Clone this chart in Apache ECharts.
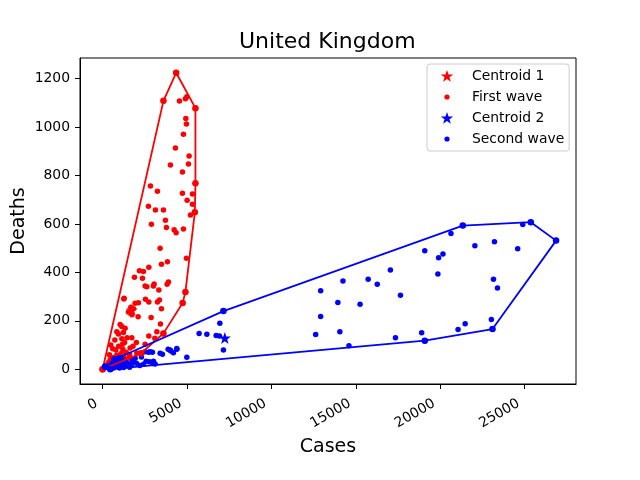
<!DOCTYPE html>
<html>
<head>
<meta charset="utf-8">
<script src="https://cdn.jsdelivr.net/npm/echarts@6/dist/echarts.min.js"></script>
<style>
html, body { margin: 0; padding: 0; background: #fff; }
#main { width: 640px; height: 480px; }
</style>
</head>
<body>
<div id="main"></div>
<script>
// cases / deaths per day
var firstWave = [
  [0,0],[50,3],[150,8],[250,15],[350,28],[450,40],[550,22],[650,48],[700,25],[750,35],
  [900,55],[1000,42],[1050,35],[1100,65],[1250,50],[1400,70],[1500,45],[1600,60],[600,85],[950,95],
  [1300,110],[480,100],[1800,95],[2000,110],[1450,130],
  [403,60],[841,59],[782,79],[1197,82],[1173,103],[1629,88],[2518,103],[2026,67],[2286,66],
  [1232,152],[936,145],[1730,130],[1137,126],[723,121],[2737,137],[3092,128],[3211,155],[3603,148],
  [1037,185],[1137,176],[3424,187],[1333,169],[841,155],
  [1671,256],[1825,250],[1528,236],[1730,225],[2103,217],[2873,214],[3484,250],[1925,272],
  [1256,290],[1274,293],[2121,274],[2536,289],[2737,278],[3247,278],[4740,273],[3365,286],
  [3051,352],[3898,360],[3821,351],[2618,341],[3330,327],[4905,319],[2518,344],[3009,344],
  [2180,407],[2417,404],[2737,421],[1884,380],[2358,376],
  [3406,500],[3484,433],[3839,444],[4965,458],
  [3720,615],[2891,599],[3780,585],[4236,576],[4354,564],[4787,579],
  [5006,698],[5320,681],[2713,673],[3128,657],[3603,657],[5462,648],[5201,637],
  [5498,768],[2832,756],[3247,735],[4728,727],[5320,723],
  [5124,880],[5083,847],[4017,843],[4728,814],
  [4929,1035],[4965,1012],[4787,970],[4313,913],
  [3603,1108],[4355,1224],[4550,1107],[4905,1117],[4988,1125],[5498,1078]
];

var secondWave = [
  [150,10],[300,8],[450,0],[500,15],[600,25],[650,5],[700,40],[800,10],[900,30],[900,15],[1000,5],
  [1100,18],[1100,30],[1200,35],[1250,7],[1300,12],[1350,22],[1400,28],[850,42],[1000,48],[1150,42],
  [1500,20],[1600,8],[1700,15],[1730,31],[1800,40],[1925,45],[2000,25],[2200,15],[2300,50],
  [2518,72],[2814,72],[3406,66],[3543,62],[3998,79],[4394,86],[4988,49],[2773,31],[2713,70],[2950,70],
  [3880,82],[4040,75],[4194,68],[4396,82],[2577,33],[3009,33],[2973,24],[2417,21],[3110,22],
  [5717,148],[6173,144],[6724,139],[6920,137],[6943,190],[7157,240],[7157,79],
  [12619,143],[12915,218],[12915,324],[13934,276],[14052,155],[14236,364],[14591,97],[15249,268],
  [15729,372],[16268,351],[17044,410],[17346,130],[17642,305],[18898,151],[19082,118],[19082,489],
  [19858,393],[19900,460],[20160,476],[20634,560],[21054,164],[21333,593],[21475,188],[22050,510],
  [23027,205],[23093,166],[23152,372],[23210,526],[23389,335],[24585,497],[24887,598],[25361,607],
  [26860,531]
];

var centroid1 = [1730, 245];
var centroid2 = [7239, 129];

var xTicks = [0, 5000, 10000, 15000, 20000, 25000];
var yTicks = [0, 200, 400, 600, 800, 1000, 1200];

// monotone chain, returns closed ring
function convexHull(pts) {
  var p = pts.slice().sort(function (a, b) { return a[0] - b[0] || a[1] - b[1]; });
  function cross(o, a, b) { return (a[0] - o[0]) * (b[1] - o[1]) - (a[1] - o[1]) * (b[0] - o[0]); }
  var lower = [], upper = [];
  for (var i = 0; i < p.length; i++) {
    while (lower.length >= 2 && cross(lower[lower.length - 2], lower[lower.length - 1], p[i]) <= 0) lower.pop();
    lower.push(p[i]);
  }
  for (var j = p.length - 1; j >= 0; j--) {
    while (upper.length >= 2 && cross(upper[upper.length - 2], upper[upper.length - 1], p[j]) <= 0) upper.pop();
    upper.push(p[j]);
  }
  upper.pop(); lower.pop();
  var ring = lower.concat(upper);
  ring.push(ring[0]);
  return ring;
}

var STAR = 'path://M0,-10L2.35,-3.24L9.51,-3.09L3.8,1.24L5.88,8.09L0,4L-5.88,8.09L-3.8,1.24L-9.51,-3.09L-2.35,-3.24Z';

function legendIcon(kind, color) {
  var body;
  if (kind === 'star') {
    var pts = [];
    for (var k = 0; k < 10; k++) {
      var r = k % 2 === 0 ? 6.5 : 2.6;
      var a = -Math.PI / 2 + k * Math.PI / 5;
      pts.push((10 + r * Math.cos(a)).toFixed(2) + ',' + (9.5 + r * Math.sin(a)).toFixed(2));
    }
    body = '<polygon points="' + pts.join(' ') + '" fill="' + color + '"/>';
  } else {
    body = '<circle cx="10" cy="9" r="2.6" fill="' + color + '"/>';
  }
  var svg = '<svg xmlns="http://www.w3.org/2000/svg" width="30" height="18" viewBox="0 0 30 18">' + body + '</svg>';
  return 'image://data:image/svg+xml;charset=utf-8,' + encodeURIComponent(svg);
}

function plain(v) { return String(v); }

var FONT = 'DejaVu Sans';
var myChart = echarts.init(document.getElementById('main'));

var option = {
  animation: false,
  backgroundColor: '#fff',
  textStyle: { fontFamily: FONT },
  title: {
    text: 'United Kingdom',
    left: 239,
    top: 31,
    padding: 0,
    textStyle: { fontFamily: FONT, fontSize: 22, fontWeight: 'normal', color: '#000' }
  },
  grid: {
    left: 80, right: 64, top: 58, bottom: 96,
    containLabel: false,
    outerBoundsMode: 'none',
    show: true, borderColor: '#000', borderWidth: 1, backgroundColor: 'transparent'
  },
  legend: {
    orient: 'vertical',
    left: 427,
    top: 64,
    padding: [3, 5, 3, 10],
    itemWidth: 30,
    itemHeight: 18,
    itemGap: 3,
    backgroundColor: 'rgba(255,255,255,0.8)',
    borderColor: '#cccccc',
    borderWidth: 1,
    borderRadius: 3,
    textStyle: { fontFamily: FONT, fontSize: 13.9, color: '#000' },
    data: [
      { name: 'Centroid 1', icon: legendIcon('star', 'red') },
      { name: 'First wave', icon: legendIcon('dot', 'red') },
      { name: 'Centroid 2', icon: legendIcon('star', 'blue') },
      { name: 'Second wave', icon: legendIcon('dot', 'blue') }
    ]
  },
  xAxis: {
    type: 'value',
    min: -1340,
    max: 28040,
    name: 'Cases',
    nameLocation: 'middle',
    nameGap: 54,
    nameMoveOverlap: false,
    nameTextStyle: { fontFamily: FONT, fontSize: 19, color: '#000' },
    axisLine: { onZero: false, lineStyle: { color: '#000', width: 1 } },
    axisTick: { show: true, length: 5, customValues: xTicks, lineStyle: { color: '#000' } },
    axisLabel: { customValues: xTicks, formatter: plain, rotate: 30, margin: 15, padding: [0, 7, 0, 0],
      fontSize: 13.9, color: '#000', fontFamily: FONT },
    splitLine: { show: false }
  },
  yAxis: {
    type: 'value',
    min: -61,
    max: 1285,
    name: 'Deaths',
    nameLocation: 'middle',
    nameGap: 51,
    nameMoveOverlap: false,
    nameTextStyle: { fontFamily: FONT, fontSize: 19, color: '#000' },
    axisLine: { show: true, onZero: false, lineStyle: { color: '#000', width: 1 } },
    axisTick: { show: true, length: 5, customValues: yTicks, lineStyle: { color: '#000' } },
    axisLabel: { customValues: yTicks, formatter: plain, margin: 10, fontSize: 13.9, color: '#000', fontFamily: FONT },
    splitLine: { show: false }
  },
  series: [
    { name: 'Centroid 1', type: 'scatter', symbol: STAR, symbolSize: 12, itemStyle: { color: 'red', opacity: 1 }, data: [centroid1] },
    { name: 'First wave', type: 'scatter', symbolSize: 5.5, itemStyle: { color: 'red', opacity: 1 }, data: firstWave },
    { name: 'First wave hull', type: 'line', symbol: 'circle', symbolSize: 6.5, showSymbol: true,
      itemStyle: { color: 'red' }, lineStyle: { color: 'red', width: 1.8 }, data: convexHull(firstWave) },
    { name: 'Centroid 2', type: 'scatter', symbol: STAR, symbolSize: 12, itemStyle: { color: 'blue', opacity: 1 }, data: [centroid2] },
    { name: 'Second wave', type: 'scatter', symbolSize: 5.5, itemStyle: { color: 'blue', opacity: 1 }, data: secondWave },
    { name: 'Second wave hull', type: 'line', symbol: 'circle', symbolSize: 6.5, showSymbol: true,
      itemStyle: { color: 'blue' }, lineStyle: { color: 'blue', width: 1.8 }, data: convexHull(secondWave) }
  ]
};

myChart.setOption(option, true);
</script>
</body>
</html>
